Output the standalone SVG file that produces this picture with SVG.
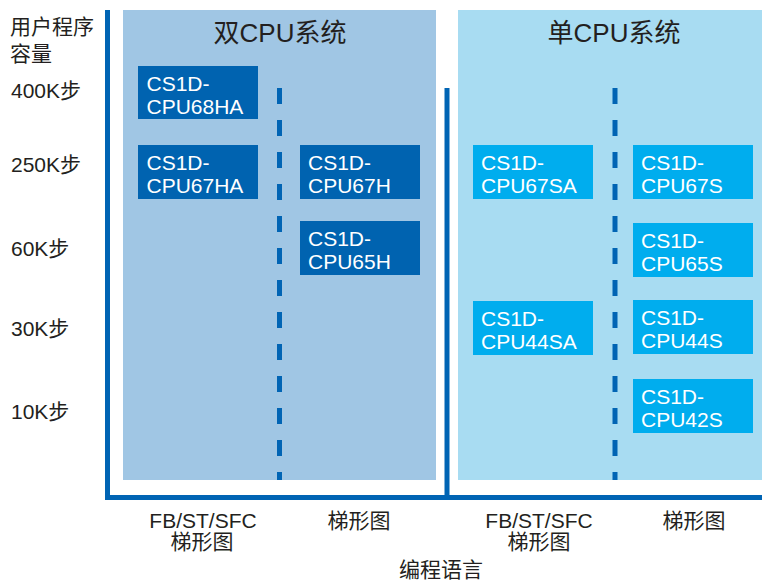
<svg xmlns="http://www.w3.org/2000/svg" width="762" height="582" viewBox="0 0 762 582">
<style>
.lbl{font-family:"Liberation Sans","Noto Sans CJK SC",sans-serif;font-size:21px;fill:#231f20}
.ttl{font-family:"Liberation Sans","Noto Sans CJK SC",sans-serif;font-size:26px;fill:#231f20;text-anchor:middle}
.mid{text-anchor:middle}
.bt{font-family:"Liberation Sans",sans-serif;font-size:21px;fill:#ffffff}
.dk{fill:#0063b0}
.lt{fill:#00adee}
.axis{stroke:#0064b4;stroke-width:5;fill:none}
.dash{stroke:#0064b4;stroke-width:5;stroke-dasharray:16 16;fill:none}
</style>
<rect width="762" height="582" fill="#ffffff"/>
<g id="panel-dual">
<rect x="123" y="10" width="313" height="470" fill="#a0c6e4"/>
<text class="ttl" x="280" y="42">双CPU系统</text>
</g>
<g id="panel-single">
<rect x="458" y="10" width="304" height="470" fill="#a8dcf2"/>
<text class="ttl" x="614" y="42">单CPU系统</text>
</g>
<g id="connectors">
<line class="axis" x1="107.5" y1="10" x2="107.5" y2="497.5"/>
<line class="axis" x1="105" y1="497.5" x2="762" y2="497.5"/>
<line class="axis" x1="447" y1="88" x2="447" y2="497.5"/>
<line class="dash" x1="279.5" y1="88" x2="279.5" y2="480"/>
<line class="dash" x1="615" y1="88" x2="615" y2="480"/>
</g>
<g id="axis-labels">
<text class="lbl" x="10" y="34">用户程序</text>
<text class="lbl" x="10" y="61">容量</text>
<text class="lbl" x="11" y="98">400K步</text>
<text class="lbl" x="11" y="171.5">250K步</text>
<text class="lbl" x="11" y="256">60K步</text>
<text class="lbl" x="11" y="336">30K步</text>
<text class="lbl" x="11" y="418.5">10K步</text>
<text class="lbl mid" x="203" y="528">FB/ST/SFC</text>
<text class="lbl mid" x="202" y="549">梯形图</text>
<text class="lbl mid" x="359" y="528">梯形图</text>
<text class="lbl mid" x="539" y="528">FB/ST/SFC</text>
<text class="lbl mid" x="539" y="549">梯形图</text>
<text class="lbl mid" x="694" y="528">梯形图</text>
<text class="lbl mid" x="441" y="577">编程语言</text>
</g>
<g id="cpu68ha"><rect class="dk" x="138" y="66" width="120" height="53"/><text class="bt" x="146.5" y="90.5">CS1D-</text><text class="bt" x="146.5" y="113.5">CPU68HA</text></g>
<g id="cpu67ha"><rect class="dk" x="138" y="145" width="120" height="54"/><text class="bt" x="146.5" y="169.5">CS1D-</text><text class="bt" x="146.5" y="192.5">CPU67HA</text></g>
<g id="cpu67h"><rect class="dk" x="300" y="145" width="120" height="54"/><text class="bt" x="308" y="169.5">CS1D-</text><text class="bt" x="308" y="192.5">CPU67H</text></g>
<g id="cpu65h"><rect class="dk" x="300" y="221" width="120" height="54"/><text class="bt" x="308" y="245.5">CS1D-</text><text class="bt" x="308" y="268.5">CPU65H</text></g>
<g id="cpu67sa"><rect class="lt" x="473" y="145" width="120" height="54"/><text class="bt" x="481" y="169.5">CS1D-</text><text class="bt" x="481" y="192.5">CPU67SA</text></g>
<g id="cpu67s"><rect class="lt" x="633" y="145" width="120" height="54"/><text class="bt" x="641" y="169.5">CS1D-</text><text class="bt" x="641" y="192.5">CPU67S</text></g>
<g id="cpu65s"><rect class="lt" x="633" y="223" width="120" height="54"/><text class="bt" x="641" y="247.5">CS1D-</text><text class="bt" x="641" y="270.5">CPU65S</text></g>
<g id="cpu44sa"><rect class="lt" x="473" y="301" width="120" height="54"/><text class="bt" x="481" y="325.5">CS1D-</text><text class="bt" x="481" y="348.5">CPU44SA</text></g>
<g id="cpu44s"><rect class="lt" x="633" y="300" width="120" height="54"/><text class="bt" x="641" y="324.5">CS1D-</text><text class="bt" x="641" y="347.5">CPU44S</text></g>
<g id="cpu42s"><rect class="lt" x="633" y="379" width="120" height="54"/><text class="bt" x="641" y="403.5">CS1D-</text><text class="bt" x="641" y="426.5">CPU42S</text></g>
</svg>
